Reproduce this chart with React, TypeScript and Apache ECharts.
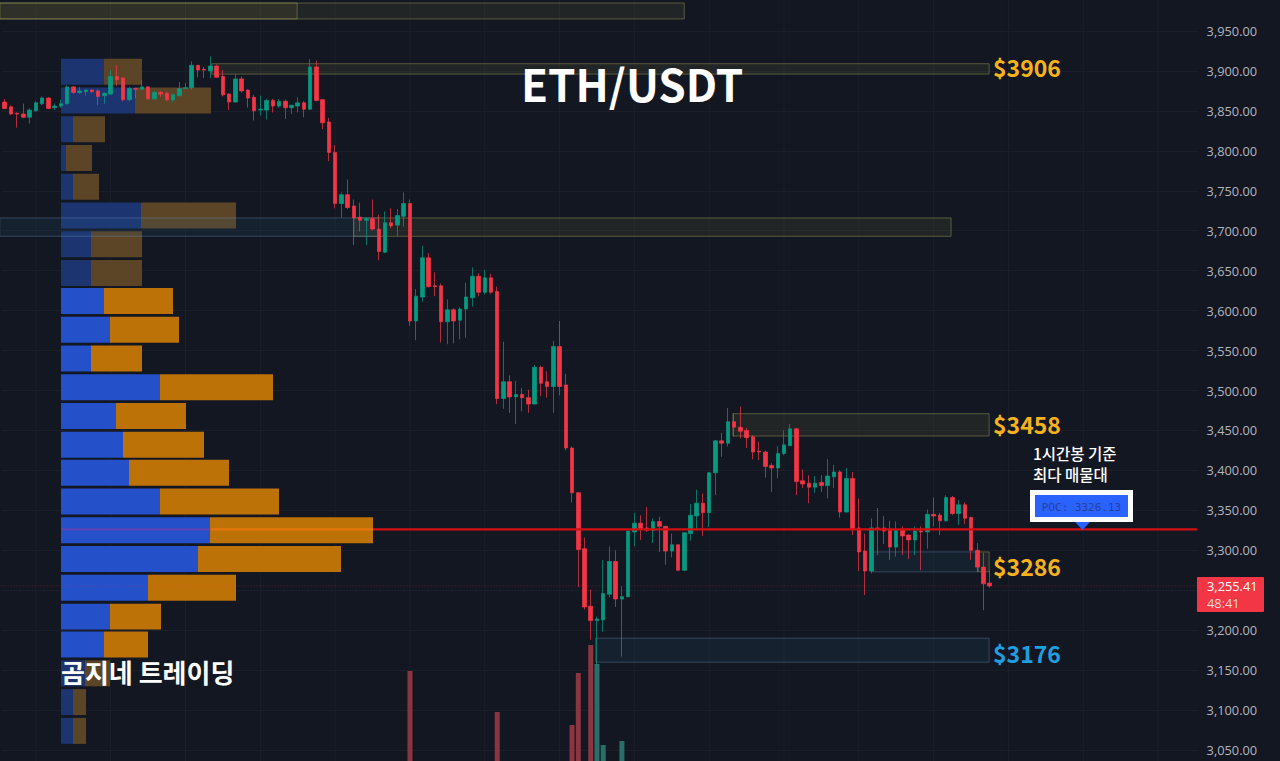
import * as echarts from 'echarts'
import { useEffect, useRef } from 'react'

// [open, close, low, high]
const ohlc = [
  [3861, 3853, 3852, 3865], [3855, 3846, 3845, 3857], [3847, 3846, 3829, 3848], [3846, 3842, 3841, 3859],
  [3842, 3851, 3834, 3853], [3850, 3860, 3849, 3862], [3859, 3866, 3857, 3868], [3866, 3853, 3852, 3867],
  [3854, 3856, 3851, 3859], [3856, 3859, 3854, 3864], [3859, 3880, 3858, 3882], [3880, 3873, 3871, 3881],
  [3873, 3875, 3871, 3880], [3874, 3876, 3869, 3877], [3876, 3874, 3872, 3877], [3875, 3868, 3857, 3877],
  [3869, 3872, 3859, 3873], [3871, 3893, 3870, 3901], [3893, 3889, 3881, 3907], [3891, 3864, 3862, 3892],
  [3864, 3878, 3862, 3880], [3878, 3877, 3866, 3879], [3877, 3880, 3877, 3889], [3880, 3865, 3864, 3881],
  [3865, 3873, 3864, 3875], [3873, 3871, 3867, 3875], [3872, 3864, 3862, 3874], [3864, 3870, 3861, 3872],
  [3869, 3878, 3868, 3886], [3878, 3879, 3877, 3885], [3879, 3907, 3876, 3912], [3907, 3901, 3892, 3907],
  [3902, 3901, 3891, 3905], [3900, 3906, 3891, 3918], [3906, 3892, 3891, 3908], [3893, 3870, 3868, 3901],
  [3871, 3861, 3851, 3872], [3861, 3890, 3860, 3896], [3890, 3875, 3873, 3893], [3876, 3866, 3854, 3877],
  [3867, 3850, 3838, 3870], [3851, 3852, 3844, 3869], [3851, 3863, 3839, 3865], [3863, 3856, 3848, 3865],
  [3856, 3862, 3854, 3865], [3862, 3854, 3840, 3864], [3854, 3857, 3846, 3857], [3856, 3860, 3848, 3867],
  [3860, 3852, 3842, 3862], [3852, 3905, 3851, 3915], [3905, 3863, 3862, 3913], [3864, 3835, 3827, 3865],
  [3836, 3798, 3787, 3841], [3798, 3734, 3728, 3807], [3734, 3745, 3716, 3748], [3745, 3729, 3727, 3764],
  [3731, 3716, 3682, 3739], [3717, 3713, 3699, 3735], [3713, 3715, 3682, 3717], [3715, 3702, 3700, 3739],
  [3702, 3674, 3663, 3720], [3673, 3710, 3672, 3724], [3710, 3706, 3703, 3728], [3707, 3719, 3693, 3727],
  [3718, 3734, 3705, 3748], [3734, 3587, 3581, 3739], [3587, 3618, 3563, 3627], [3617, 3666, 3611, 3681],
  [3666, 3630, 3629, 3672], [3631, 3630, 3618, 3648], [3631, 3586, 3560, 3634], [3586, 3601, 3558, 3614],
  [3601, 3587, 3559, 3603], [3588, 3602, 3564, 3604], [3602, 3617, 3566, 3635], [3616, 3643, 3605, 3654],
  [3643, 3623, 3618, 3647], [3623, 3641, 3620, 3651], [3641, 3623, 3621, 3646], [3624, 3490, 3483, 3630],
  [3490, 3511, 3477, 3561], [3511, 3492, 3472, 3519], [3492, 3495, 3458, 3512], [3495, 3491, 3474, 3503],
  [3491, 3483, 3472, 3501], [3483, 3529, 3483, 3532], [3529, 3509, 3493, 3531], [3511, 3505, 3491, 3524],
  [3505, 3555, 3472, 3562], [3555, 3505, 3494, 3587], [3507, 3428, 3425, 3521], [3428, 3372, 3360, 3430],
  [3372, 3301, 3254, 3373], [3302, 3229, 3226, 3316], [3230, 3212, 3188, 3251], [3212, 3214, 3156, 3217],
  [3213, 3246, 3198, 3288], [3245, 3286, 3241, 3305], [3286, 3239, 3229, 3300], [3239, 3242, 3167, 3255],
  [3242, 3324, 3241, 3325], [3323, 3334, 3305, 3347], [3334, 3327, 3313, 3344], [3328, 3325, 3323, 3354],
  [3325, 3336, 3309, 3340], [3336, 3330, 3298, 3342], [3330, 3299, 3282, 3330], [3299, 3307, 3291, 3321],
  [3307, 3275, 3274, 3307], [3275, 3322, 3274, 3322], [3321, 3344, 3312, 3358], [3343, 3359, 3325, 3376],
  [3359, 3347, 3318, 3371], [3347, 3397, 3329, 3398], [3397, 3437, 3369, 3438], [3437, 3434, 3417, 3447],
  [3434, 3461, 3430, 3478], [3461, 3454, 3442, 3471], [3454, 3449, 3440, 3480], [3450, 3441, 3428, 3453],
  [3442, 3423, 3414, 3444], [3424, 3423, 3413, 3436], [3423, 3405, 3391, 3425], [3406, 3403, 3373, 3409],
  [3403, 3421, 3390, 3430], [3421, 3432, 3419, 3450], [3431, 3452, 3430, 3458], [3452, 3386, 3369, 3453],
  [3387, 3383, 3378, 3401], [3384, 3379, 3359, 3394], [3379, 3384, 3372, 3393], [3385, 3381, 3373, 3394],
  [3381, 3393, 3365, 3414], [3392, 3398, 3378, 3407], [3398, 3348, 3341, 3400], [3348, 3390, 3347, 3403],
  [3390, 3327, 3319, 3398], [3328, 3298, 3274, 3365], [3299, 3274, 3244, 3321], [3274, 3328, 3271, 3340],
  [3328, 3327, 3294, 3353], [3328, 3324, 3308, 3343], [3325, 3304, 3288, 3337], [3304, 3325, 3292, 3336],
  [3325, 3318, 3294, 3330], [3319, 3313, 3289, 3320], [3313, 3324, 3294, 3330], [3324, 3323, 3275, 3330],
  [3323, 3345, 3302, 3351], [3345, 3343, 3330, 3366], [3344, 3337, 3319, 3347], [3337, 3366, 3336, 3369],
  [3366, 3346, 3344, 3368], [3346, 3357, 3332, 3363], [3357, 3340, 3333, 3360], [3341, 3300, 3288, 3342],
  [3300, 3279, 3273, 3309], [3279, 3258, 3225, 3297], [3259, 3255.41, 3253, 3275]
]

// candle index, volume
const volumes = [
  [65, 119], [79, 78], [91, 65], [92, 117], [94, 145], [95, 126], [96, 45], [99, 49]
]

// volume profile: row price, buy volume, sell volume
const profilePrices = [
  3899, 3863, 3827, 3791, 3755, 3719, 3683, 3647, 3612, 3576, 3540, 3504,
  3468, 3432, 3397, 3361, 3325, 3289, 3253, 3217, 3182, 3146, 3110, 3074
]
const profileBuy = [43, 74, 12, 5, 12, 80, 30, 30, 43, 49, 30, 99, 55, 62, 68, 99, 149, 137, 87, 49, 43, 24, 12, 12]
const profileSell = [38, 76, 32, 26, 26, 95, 51, 51, 69, 69, 51, 113, 70, 81, 100, 119, 163, 143, 88, 51, 44, 25, 13, 13]
const valueAreaHigh = 3630
const valueAreaLow = 3165

// from index, to index, upper price, lower price
const supplyZones = [
  [-0.8, 109, 3985, 3965], [-0.8, 46.9, 3985, 3965], [33.2, 157.9, 3909, 3896],
  [56, 151.8, 3716, 3693], [116.8, 157.9, 3471, 3443], [156.1, 157.9, 3298, 3273]
]
const demandZones = [
  [-0.8, 60, 3716, 3693], [139, 156.1, 3298, 3273], [94.8, 157.9, 3190, 3160]
]

const timeGridIdx = [5, 17, 29, 41, 53, 65, 77, 89, 101, 113, 125, 137, 149, 161, 173, 185]
const pocPrice = 3326.13
// the POC line shows through the profile row, so it changes tint at these candle indexes
const pocBuyRange = [9.03, 33]
const pocSellRange = [33, 59.1]
const pocOpenRange = [59.1, 191.3]
const lastPrice = 3255.41
const slotCount = 192

const UP = '#089981'
const DOWN = '#f23645'
const BG = '#131722'
const GRID = '#1b1f2a'
const KR = '"Noto Sans CJK KR", "Noto Sans", sans-serif'
const AXIS_FONT = '"Open Sans", sans-serif'

function zoneSeries(data: number[][], fill: string, stroke: string, z: number) {
  return {
    type: 'custom',
    xAxisIndex: 1,
    z,
    silent: true,
    data,
    renderItem: (_: any, api: any) => {
      const a = api.coord([api.value(0), api.value(2)])
      const b = api.coord([api.value(1), api.value(3)])
      return {
        type: 'rect',
        shape: { x: a[0], y: a[1], width: b[0] - a[0], height: b[1] - a[1] },
        style: { fill, stroke, lineWidth: 1 }
      }
    }
  }
}

function hLineSeries(data: number[][], stroke: string, lineWidth: number, z: number, lineDash?: number[]) {
  return {
    type: 'custom',
    xAxisIndex: 1,
    z,
    silent: true,
    data,
    renderItem: (_: any, api: any) => {
      const a = api.coord([api.value(0), api.value(2)])
      const b = api.coord([api.value(1), api.value(2)])
      return {
        type: 'line',
        shape: { x1: a[0], y1: a[1], x2: b[0], y2: b[1] },
        style: { stroke, lineWidth, lineDash }
      }
    }
  }
}

function profileSeries() {
  const rows = profilePrices.map((p, i) => [p, profileBuy[i], profileSell[i]])
  return {
    type: 'custom',
    xAxisIndex: 2,
    z: 2,
    silent: true,
    data: rows,
    renderItem: (_: any, api: any) => {
      const price = api.value(0)
      const buy = api.value(1)
      const sell = api.value(2)
      const bright = price < valueAreaHigh && price > valueAreaLow
      const rowH = 32.5
      const top = price + rowH / 2
      const bottom = price - rowH / 2
      const p0 = api.coord([0, top])
      const p1 = api.coord([buy, bottom])
      const p2 = api.coord([buy + sell, bottom])
      return {
        type: 'group',
        children: [
          {
            type: 'rect',
            shape: { x: p0[0], y: p0[1], width: p1[0] - p0[0], height: p1[1] - p0[1] },
            style: { fill: bright ? '#2450c9' : '#1c3470' }
          },
          {
            type: 'rect',
            shape: { x: p1[0], y: p0[1], width: p2[0] - p1[0], height: p1[1] - p0[1] },
            style: { fill: bright ? '#bd7208' : '#5c4526' }
          }
        ]
      }
    }
  }
}

function label(text: string, x: number, y: number, fill: string, font: string, align = 'left') {
  return {
    type: 'text',
    z: 102,
    x,
    y,
    style: { text, fill, font, align, verticalAlign: 'middle' }
  }
}

function App() {
  const chartRef = useRef<HTMLDivElement>(null)

  useEffect(() => {
    if (!chartRef.current) return
    document.body.style.margin = '0'
    document.body.style.background = BG

    const chart = echarts.init(chartRef.current, undefined, { renderer: 'svg' })

    const categories = Array.from({ length: slotCount }, (_, i) => String(i))
    const volumeData = categories.map(() => null as any)
    volumes.forEach(([i, v]) => {
      volumeData[i] = {
        value: v,
        itemStyle: { color: ohlc[i][1] < ohlc[i][0] ? '#8a3540' : '#2a6e68' }
      }
    })

    chart.setOption({
      animation: false,
      backgroundColor: BG,
      // top and height run past the page so that the price axis starts on a round number
      grid: { left: 1.6, top: -9, width: 1197, height: 799, outerBoundsMode: 'none' },
      xAxis: [
        { type: 'category', data: categories, show: false },
        { type: 'value', min: -0.5, max: slotCount - 0.5, show: false },
        { type: 'value', min: -59.4, max: 1137.6, show: false }
      ],
      yAxis: [
        {
          type: 'value',
          position: 'right',
          min: 3000,
          max: 4000,
          interval: 50,
          axisLine: { show: false },
          axisTick: { show: false },
          splitLine: { lineStyle: { color: GRID, width: 1 } },
          axisLabel: {
            showMinLabel: false,
            showMaxLabel: false,
            margin: 8,
            color: '#b2b5be',
            fontSize: 12.8,
            fontFamily: AXIS_FONT,
            // the last price tag sits over 3,250
            formatter: (v: number) =>
              v === 3250
                ? ''
                : v.toLocaleString('en-US', { minimumFractionDigits: 2, maximumFractionDigits: 2 })
          }
        },
        { type: 'value', min: 0, max: 799, show: false }
      ],
      series: [
        {
          type: 'custom',
          xAxisIndex: 1,
          z: 1,
          silent: true,
          data: timeGridIdx.map((i) => [i]),
          renderItem: (_: any, api: any) => {
            const a = api.coord([api.value(0), 4000])
            const b = api.coord([api.value(0), 3000])
            return {
              type: 'line',
              shape: { x1: a[0], y1: a[1], x2: b[0], y2: b[1] },
              style: { stroke: GRID, lineWidth: 1 }
            }
          }
        },
        profileSeries(),
        zoneSeries(supplyZones, 'rgba(125,125,65,0.14)', 'rgba(165,165,90,0.45)', 3),
        zoneSeries(demandZones, 'rgba(50,100,150,0.13)', 'rgba(105,145,185,0.38)', 4),
        {
          type: 'bar',
          xAxisIndex: 0,
          yAxisIndex: 1,
          z: 5,
          barWidth: 5,
          silent: true,
          data: volumeData
        },
        hLineSeries([[-0.5, slotCount - 0.5, lastPrice]], 'rgba(242,54,69,0.35)', 1, 5, [1, 2]),
        {
          type: 'candlestick',
          xAxisIndex: 0,
          yAxisIndex: 0,
          z: 6,
          barWidth: 4,
          silent: true,
          data: ohlc,
          itemStyle: {
            color: UP,
            color0: DOWN,
            borderColor: 'rgba(8,153,129,0.72)',
            borderColor0: 'rgba(242,54,69,0.72)',
            borderWidth: 1
          }
        },
        hLineSeries([[pocBuyRange[0], pocBuyRange[1], pocPrice]], '#5c44b4', 2.2, 7),
        hLineSeries([[pocSellRange[0], pocSellRange[1], pocPrice]], '#e8750c', 2.2, 7),
        hLineSeries([[pocOpenRange[0], pocOpenRange[1], pocPrice]], '#d40f12', 2.2, 7)
      ],
      graphic: [
        label('ETH/USDT', 521, 83, '#ffffff', `bold 44px ${KR}`),
        label('$3906', 993, 67, '#f5b21a', `bold 23px ${KR}`),
        label('$3458', 993, 424, '#f5b21a', `bold 23px ${KR}`),
        label('$3286', 993, 566, '#f5b21a', `bold 23px ${KR}`),
        label('$3176', 993, 653, '#1e9fe0', `bold 23px ${KR}`),
        label('곰지네 트레이딩', 61, 671, '#ffffff', `bold 26px ${KR}`),
        label('1시간봉 기준', 1033, 453, '#ffffff', `500 15.5px ${KR}`),
        label('최다 매물대', 1033, 474, '#ffffff', `500 15.5px ${KR}`),
        { type: 'rect', z: 100, shape: { x: 1030, y: 490, width: 103, height: 32 }, style: { fill: '#ffffff' } },
        { type: 'rect', z: 101, shape: { x: 1035, y: 495, width: 93, height: 22 }, style: { fill: '#2962ff' } },
        label('POC: 3326.13', 1081.5, 507, '#28409a', '11px "DejaVu Sans Mono", monospace', 'center'),
        {
          type: 'polygon',
          z: 101,
          shape: { points: [[1075, 522], [1090, 522], [1082.5, 530]] },
          style: { fill: '#2962ff' }
        },
        { type: 'rect', z: 100, shape: { x: 1197, y: 577, width: 67, height: 35, r: 1 }, style: { fill: DOWN } },
        label('3,255.41', 1207, 586, '#ffffff', `12.8px ${AXIS_FONT}`),
        label('48:41', 1207, 603, '#ffd5d9', `12.8px ${AXIS_FONT}`)
      ]
    })

    return () => {
      chart.dispose()
    }
  }, [])

  return (
    <div
      ref={chartRef}
      style={{ position: 'fixed', left: 0, top: 0, width: 1280, height: 761, overflow: 'hidden' }}
    />
  )
}

export default App
